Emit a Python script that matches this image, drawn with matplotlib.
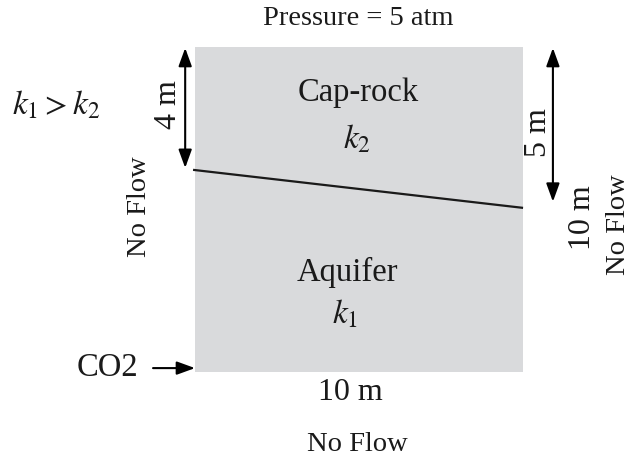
"""
Skizze: CO2-Injektion in Aquifer unter Deckschicht (Cap-rock)
"""
import matplotlib
matplotlib.use("Agg")
import matplotlib.pyplot as plt
from matplotlib.patches import Rectangle

plt.rcParams["font.family"] = ["Liberation Serif", "DejaVu Serif"]
plt.rcParams["mathtext.fontset"] = "stix"

# ── Geometrie (Meter) ──
domain_width = 10.0
domain_height = 10.0
depth_left = 3.82      # Grenzfläche links unter Oberkante
depth_right = 4.95     # Grenzfläche rechts unter Oberkante

# ── Beschriftungen ──
top_label = "Pressure = 5 atm"
side_label = "No Flow"
width_label = "10 m"
height_label = "10 m"
left_depth_label = "4 m"
right_depth_label = "5 m"
layer_names = ["Cap-rock", "Aquifer"]
layer_k = [r"$k_2$", r"$k_1$"]
k_relation = r"$k_1 > k_2$"
inlet_label = "CO2"

fill_color = "#d9dadc"

fig = plt.figure(figsize=(6.3, 4.63), dpi=100)
ax = fig.add_axes([0, 0, 1, 1])
ax.set_xlim(-5.945, 13.26)
ax.set_ylim(-2.8, 11.446)
ax.axis("off")

H, W = domain_height, domain_width

# Gebiet
ax.add_patch(Rectangle((0, 0), W, H, facecolor=fill_color, edgecolor="none"))

# Grenzfläche
ax.plot([-0.06, W], [H - depth_left + 0.04, H - depth_right],
        color="#1a1a1a", lw=1.6, solid_capstyle="butt")

# Maßpfeile
arrow_kw = dict(arrowstyle="<|-|>,head_length=0.55,head_width=0.2",
                color="black", lw=1.5, mutation_scale=20,
                shrinkA=0, shrinkB=0)
ax.annotate("", xy=(-0.30, H - 0.03), xytext=(-0.30, H - depth_left + 0.1),
            arrowprops=arrow_kw)
ax.annotate("", xy=(10.91, H - 0.03), xytext=(10.91, H - depth_right + 0.19),
            arrowprops=arrow_kw)

# CO2-Einlass
ax.annotate("", xy=(0, 0.12), xytext=(-1.28, 0.12),
            arrowprops=dict(arrowstyle="-|>,head_length=0.55,head_width=0.2",
                            color="black", lw=1.5, mutation_scale=20,
                            shrinkA=0, shrinkB=0))

txt = dict(ha="center", va="center", color="#1a1a1a")

ax.text(4.97, 10.89, top_label, fontsize=20.5, **txt)
ax.text(-4.24, 8.22, k_relation, fontsize=24, **txt)

ax.text(4.97, 8.58, layer_names[0], fontsize=23.5, **txt)
ax.text(4.94, 7.15, layer_k[0], fontsize=24, **txt)
ax.text(4.63, 3.05, layer_names[1], fontsize=23.5, **txt)
ax.text(4.57, 1.78, layer_k[1], fontsize=24, **txt)

ax.text(-0.82, 8.22, left_depth_label, fontsize=23, rotation=90, **txt)
ax.text(10.46, 7.38, right_depth_label, fontsize=23, rotation=90, **txt)
ax.text(11.80, 4.74, height_label, fontsize=23, rotation=90, **txt)
ax.text(12.90, 4.52, side_label, fontsize=20.5, rotation=90, **txt)
ax.text(-1.68, 5.08, side_label, fontsize=20.5, rotation=90, **txt)

ax.text(-1.74, 0.12, inlet_label, fontsize=23.5, ha="right", va="center",
        color="#1a1a1a")
ax.text(4.73, -0.62, width_label, fontsize=23, **txt)
ax.text(4.94, -2.22, side_label, fontsize=20.5, **txt)

fig.savefig("out.png", dpi=100)
